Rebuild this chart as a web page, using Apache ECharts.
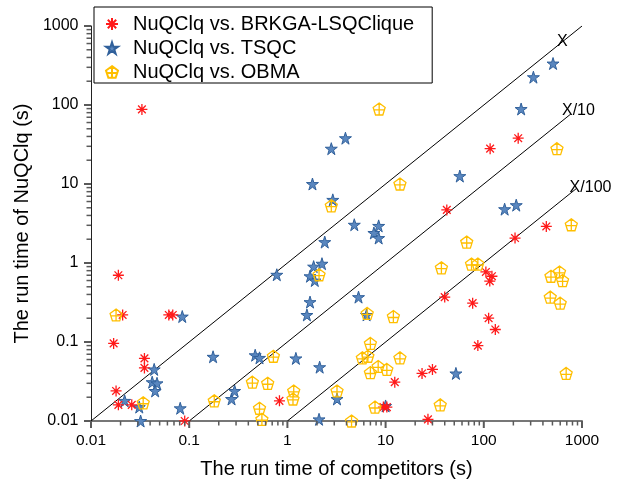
<!DOCTYPE html>
<html>
<head>
<meta charset="utf-8">
<script src="https://cdn.jsdelivr.net/npm/echarts@6/dist/echarts.min.js"></script>
<style>
  html, body { margin: 0; padding: 0; background: #fff; }
  #chart { width: 621px; height: 484px; }
</style>
</head>
<body>
<div id="chart"></div>
<script>
// run time pairs [competitor, NuQClq] in seconds
const vsBRKGA = [
  [0.033, 88], [0.019, 0.70], [0.021, 0.22], [0.062, 0.22], [0.068, 0.22],
  [0.017, 0.096], [0.035, 0.062], [0.035, 0.047], [0.018, 0.024], [0.019, 0.016],
  [0.026, 0.016], [0.09, 0.01], [0.83, 0.018], [12.4, 0.031], [9.5, 0.015],
  [10.3, 0.015], [23.5, 0.040], [30, 0.045], [27, 0.0105], [87, 0.09],
  [131, 0.144], [112, 0.20], [77, 0.31], [40, 0.37], [105, 0.77],
  [121, 0.68], [115, 0.59], [208, 2.07], [433, 2.9], [42, 4.7],
  [116, 28], [224, 38]
]
const vsTSQC = [
  [1.8, 10], [3.9, 38], [2.8, 28], [2.9, 6.3], [57, 12.6],
  [240, 89], [320, 225], [507, 335], [163, 4.8], [214, 5.4],
  [0.085, 0.21], [0.044, 0.045], [0.042, 0.031], [0.047, 0.030], [0.045, 0.024],
  [0.022, 0.018], [0.031, 0.015], [0.032, 0.01], [0.081, 0.0145], [0.175, 0.065],
  [0.27, 0.019], [0.29, 0.024], [4.8, 3.05], [8.5, 2.95], [7.6, 2.4],
  [8.5, 2.07], [2.4, 1.84], [0.78, 0.71], [1.85, 0.9], [2.25, 0.98],
  [1.7, 0.68], [1.9, 0.6], [1.7, 0.32], [1.58, 0.22], [5.3, 0.37],
  [6.4, 0.22], [0.47, 0.068], [0.52, 0.063], [1.22, 0.062], [2.13, 0.048],
  [2.1, 0.0105], [3.2, 0.019], [10, 0.0155], [52, 0.040]
]
const vsOBMA = [
  [8.6, 89], [2.8, 5.3], [14, 10], [556, 28], [778, 3.05],
  [0.018, 0.22], [0.034, 0.017], [0.18, 0.018], [2.1, 0.71], [6.5, 0.23],
  [12, 0.21], [0.72, 0.066], [7.0, 0.096], [5.8, 0.063], [6.6, 0.066],
  [8.4, 0.049], [10.3, 0.045], [7.0, 0.041], [14, 0.063], [0.44, 0.031],
  [0.63, 0.030], [1.16, 0.024], [1.14, 0.019], [0.52, 0.0145], [0.55, 0.0105],
  [4.5, 0.01], [3.2, 0.024], [7.8, 0.015], [67, 1.84], [37, 0.87],
  [75, 0.97], [87, 0.97], [483, 0.68], [590, 0.77], [634, 0.6],
  [475, 0.37], [600, 0.31], [690, 0.040], [36, 0.016]
]

// reference lines y = x, x/10, x/100 (end points) and where their labels sit
const lineX = [[0.01, 0.01], [1000, 1000]]
const lineX10 = [[0.1, 0.01], [770, 77]]
const lineX100 = [[1, 0.01], [880, 8.8]]
const lineNames = ['X', 'X/10', 'X/100']
const lineLabelAt = [[556, 628], [625, 86], [748, 8.9]]

const seriesNames = ['NuQClq vs. BRKGA-LSQClique', 'NuQClq vs. TSQC', 'NuQClq vs. OBMA']
const majorTicks = [0.01, 0.1, 1, 10, 100, 1000]
const tickLabels = ['0.01', '0.1', '1', '10', '100', '1000']
const minorSteps = [2, 3, 4, 5, 6, 7, 8, 9]

const FONT = 'Liberation Sans, Arial, sans-serif'
const TICK = '#5a5a5a'

// marker shapes
const asterisk = 'path://M0,50H100M50,0V100M15,15L85,85M85,15L15,85'
const star = 'path://M50,0L61,35H98L68,57L79,92L50,70L21,92L32,57L2,35H39Z'
const pentaCross = 'path://M50,4L96,38L78,94H22L4,38ZM50,4L50,94M9,56L91,56'

// minor tick positions 2..9 inside each decade
const minorTicks = []
majorTicks.slice(0, -1).forEach(d => minorSteps.forEach(s => minorTicks.push(+(d * s).toPrecision(3))))

function fmtTick(v) {
  const i = majorTicks.findIndex(t => Math.abs(t - v) / t < 1e-6)
  return i >= 0 ? tickLabels[i] : ''
}

const chart = echarts.init(document.getElementById('chart'), null, { renderer: 'canvas' })

function refLine(data, idx) {
  return {
    type: 'line',
    data: data,
    symbol: 'none',
    silent: true,
    z: 1,
    lineStyle: { color: '#000', width: 1 },
    markPoint: {
      symbol: 'circle',
      symbolSize: 0,
      silent: true,
      data: [{
        coord: lineLabelAt[idx],
        label: {
          show: true,
          formatter: lineNames[idx],
          position: 'inside',
          align: 'left',
          verticalAlign: 'middle',
          color: '#000',
          fontSize: 16,
          fontFamily: FONT
        }
      }]
    }
  }
}

const logBase = {
  type: 'log',
  logBase: 10,
  min: 0.01,
  max: 1000,
  splitLine: { show: false },
  nameLocation: 'middle',
  axisTick: { show: false }
}

const option = {
  animation: false,
  backgroundColor: '#fff',
  grid: { left: 91, right: 39, top: 26, bottom: 62 },
  legend: {
    orient: 'vertical',
    left: 94,
    top: 7,
    padding: [7, 18, 1, 11],
    itemGap: 4,
    itemWidth: 12,
    itemHeight: 12,
    borderColor: '#000',
    borderWidth: 1,
    backgroundColor: '#fff',
    data: seriesNames,
    textStyle: { color: '#000', fontSize: 20, fontFamily: FONT, lineHeight: 20, padding: [0, 0, 0, 10] }
  },
  xAxis: Object.assign({}, logBase, {
    name: 'The run time of competitors (s)',
    nameGap: 38,
    nameTextStyle: { color: '#000', fontSize: 20, fontFamily: FONT },
    axisLine: { show: true, lineStyle: { color: '#777', width: 2 } },
    axisLabel: { color: '#000', fontSize: 15.5, fontFamily: FONT, margin: 12, formatter: fmtTick }
  }),
  yAxis: Object.assign({}, logBase, {
    name: 'The run time of NuQClq (s)',
    nameGap: 54,
    nameTextStyle: { color: '#000', fontSize: 20, fontFamily: FONT },
    axisLine: { show: true, lineStyle: { color: '#222', width: 1 } },
    axisLabel: { color: '#000', fontSize: 16, fontFamily: FONT, margin: 12.5, formatter: fmtTick }
  }),
  series: [
    refLine(lineX, 0),
    refLine(lineX10, 1),
    refLine(lineX100, 2),
    {
      name: seriesNames[0],
      type: 'scatter',
      data: vsBRKGA,
      symbol: asterisk,
      symbolSize: 11,
      z: 3,
      itemStyle: { color: 'rgba(0,0,0,0)', borderColor: '#ff1a1a', borderWidth: 1.3, opacity: 1 }
    },
    {
      name: seriesNames[1],
      type: 'scatter',
      data: vsTSQC,
      symbol: star,
      symbolSize: 12,
      z: 2,
      itemStyle: { color: '#5a87bf', borderColor: '#30609b', borderWidth: 1, opacity: 1 }
    },
    {
      name: seriesNames[2],
      type: 'scatter',
      data: vsOBMA,
      symbol: pentaCross,
      symbolSize: 12,
      z: 4,
      itemStyle: { color: 'rgba(255,255,255,0)', borderColor: '#ffbf00', borderWidth: 1.3, opacity: 1 }
    }
  ]
}

chart.setOption(option)

// outward tick marks, positioned through the axis scales after layout
function tickMarks(values, len, width) {
  const out = []
  values.forEach(v => {
    const px = chart.convertToPixel({ gridIndex: 0 }, [v, 0.01])
    const py = chart.convertToPixel({ gridIndex: 0 }, [0.01, v])
    out.push({
      type: 'line', silent: true, z: 10,
      shape: { x1: px[0], y1: px[1], x2: px[0], y2: px[1] + len },
      style: { stroke: TICK, lineWidth: width }
    })
    out.push({
      type: 'line', silent: true, z: 10,
      shape: { x1: py[0], y1: py[1], x2: py[0] - len, y2: py[1] },
      style: { stroke: TICK, lineWidth: width }
    })
  })
  return out
}

chart.setOption({
  graphic: { elements: tickMarks(majorTicks, 7, 2).concat(tickMarks(minorTicks, 4.5, 1.5)) }
})
</script>
</body>
</html>
